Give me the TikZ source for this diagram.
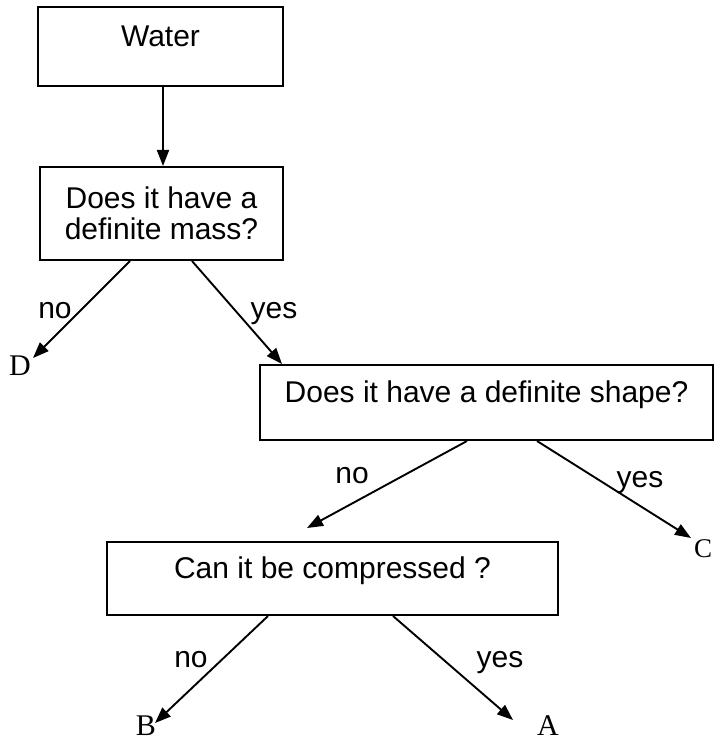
\documentclass[tikz,border=0pt]{standalone}
\usepackage{fontspec}
\setmainfont{Liberation Sans}
\newfontfamily\lettfont{Liberation Serif}
\usetikzlibrary{arrows.meta}
\tikzset{
  box/.style={draw, line width=2pt, inner sep=0pt, align=center,
    font=\fontsize{30}{31}\selectfont},
  onebox/.style={box, text height=20pt, text depth=20pt},
  conn/.style={line width=1.9pt, -{Triangle[length=16pt,width=12pt]}},
  lab/.style={anchor=base, inner sep=0pt, font=\fontsize{30}{30}\selectfont},
  lett/.style={anchor=base, inner sep=0pt, font=\lettfont\fontsize{30}{30}\selectfont}
}
\begin{document}
\begin{tikzpicture}[x=1pt,y=-1pt]
\useasboundingbox (0,0) rectangle (716,743);
% boxes
\node[onebox, minimum width=245pt, minimum height=79pt] (water) at (160.5,46.5) {Water};
\node[box, minimum width=243pt, minimum height=93pt] (q1) at (161.5,213.5) {Does it have a\\definite mass?};
\node[onebox, minimum width=453pt, minimum height=75pt] (q2) at (486.5,402.5) {Does it have a definite shape?};
\node[onebox, minimum width=451pt, minimum height=73pt] (q3) at (332.5,578.5) {Can it be compressed ?};
% end letters
\node[lett] (D) at (20,375) {D};
\node[lett, font=\lettfont\fontsize{27}{27}\selectfont] (C) at (703,557) {C};
\node[lett] (B) at (146,735) {B};
\node[lett] (A) at (548,735) {A};
% arrow tips
\coordinate (tD) at (33,358);
\coordinate (tQ3) at (307,528);
\coordinate (tC) at (691,538);
\coordinate (tB) at (155,723);
\coordinate (tA) at (513,720);
% connectors
\draw[conn] ([xshift=2.5pt]water.south) -- ([xshift=1.5pt]q1.north);
\draw[conn] ([xshift=-31.5pt]q1.south) -- (tD);
\draw[conn] ([xshift=30.5pt]q1.south) -- ([xshift=-204.5pt]q2.north);
\draw[conn] ([xshift=-19.5pt]q2.south) -- (tQ3);
\draw[conn] ([xshift=50.5pt]q2.south) -- (tC);
\draw[conn] ([xshift=-64.5pt]q3.south) -- (tB);
\draw[conn] ([xshift=60.5pt]q3.south) -- (tA);
% labels
\node[lab] (l1) at (55,318) {no};
\node[lab] (l2) at (274,318) {yes};
\node[lab] (l3) at (352,483) {no};
\node[lab] (l4) at (640,487) {yes};
\node[lab] (l5) at (191,667) {no};
\node[lab] (l6) at (500,667) {yes};
\end{tikzpicture}
\end{document}
